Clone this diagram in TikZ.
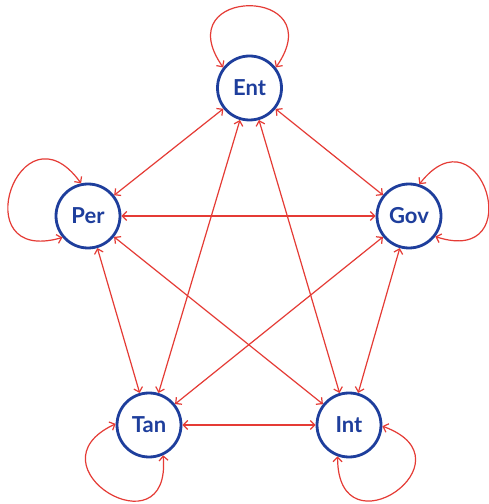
\documentclass[tikz,border=0pt]{standalone}
\usepackage{fontspec}
\setmainfont{Lato}
\usetikzlibrary{arrows.meta}
\definecolor{nodeblue}{HTML}{1E3E9C}
\definecolor{edgered}{HTML}{E53B35}
\begin{document}
\begin{tikzpicture}[x=1pt,y=1pt,
  state/.style={circle,draw=nodeblue,line width=2.8pt,minimum size=64pt,inner sep=0pt,
    text=nodeblue,font=\fontsize{22}{24}\selectfont\bfseries},
  edge/.style={draw=edgered,line width=1.2pt,
    {Straight Barb[length=4.5pt,width=9pt]}-{Straight Barb[length=4.5pt,width=9pt]}}]
\useasboundingbox[fill=white] (0,0) rectangle (488,504);
\node[state] (Ent) at (249.5,416) {Ent};
\node[state] (Per) at (88,288) {Per};
\node[state] (Gov) at (409,288) {Gov};
\node[state] (Tan) at (149,79) {Tan};
\node[state] (Int) at (349,79) {Int};
% edges
\draw[edge] (Ent) -- (Per);
\draw[edge] (Ent) -- (Gov);
\draw[edge] (Ent) -- (Tan);
\draw[edge] (Ent) -- (Int);
\draw[edge] (Per) -- (Gov);
\draw[edge] (Per) -- (Tan);
\draw[edge] (Per) -- (Int);
\draw[edge] (Gov) -- (Tan);
\draw[edge] (Gov) -- (Int);
\draw[edge] (Tan) -- (Int);
% self loops
\draw[edge] (Ent.142) .. controls +(125:100) and +(55:100) .. (Ent.38);
\draw[edge] (Per.220) .. controls +(196:104) and +(126:104) .. (Per.102);
\draw[edge] (Gov.72) .. controls +(52:100) and +(-18:100) .. (Gov.-38);
\draw[edge] (Int.-2) .. controls +(-20:100) and +(-90:100) .. (Int.-110);
\draw[edge] (Tan.-65) .. controls +(-85:100) and +(-155:100) .. (Tan.178);
\end{tikzpicture}
\end{document}
